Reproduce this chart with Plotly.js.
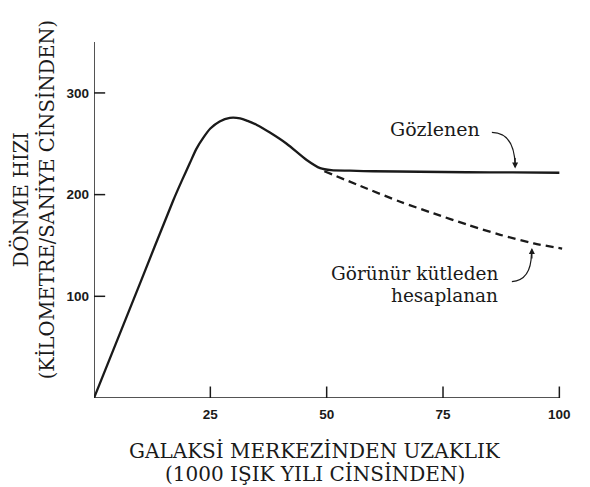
<!DOCTYPE html>
<html>
<head>
<meta charset="utf-8">
<script src="https://cdn.plot.ly/plotly-3.0.1.min.js"></script>
<style>html,body{margin:0;padding:0;background:#fff;}#chart{width:590px;height:487px;}</style>
</head>
<body>
<div id="chart"></div>
<script>
// Observed rotation curve (distance in 1000 ly, speed in km/s)
const observedX = [0, 10, 17, 19, 20.6, 22, 23.5, 25, 27, 29.2, 31.4, 33, 35, 37.8, 41.4, 45.7, 48.6, 51, 55, 60, 70, 80, 90, 100];
const observedY = [0, 114, 194, 215, 231, 245, 256, 265, 272, 275.5, 275, 272.5, 268.5, 261, 250, 234, 226, 224, 223.5, 223, 222.5, 222, 221.8, 221.5];
// Expected from visible mass
const visibleX = [49.5, 58.6, 65.8, 73, 80.2, 87.3, 94.5, 100.6];
const visibleY = [223, 206, 193, 181.5, 170.5, 160.5, 152, 147];
// Ticks
const xTicks = [25, 50, 75, 100];
const yTicks = [100, 200, 300];
const xTitle1 = 'GALAKSİ MERKEZİNDEN UZAKLIK';
const xTitle2 = '(1000 IŞIK YILI CİNSİNDEN)';
const yTitle = 'DÖNME HIZI<br>(KİLOMETRE/SANİYE CİNSİNDEN)';
const observedLabel = 'Gözlenen';
const visibleLabel1 = 'Görünür kütleden';
const visibleLabel2 = 'hesaplanan';

const ink = '#1a1a1a';
const serif = 'DejaVu Serif, serif';
const sans = 'Liberation Sans, Arial, sans-serif';

// inside tick marks, built from the tick arrays
const xTickLen = 11.3;  // y units (~11.5 px)
const yTickLen = 2.4;   // x units (~11 px)
const tickX = [], tickY = [];
xTicks.forEach(v => { tickX.push(v, v, null); tickY.push(0, xTickLen, null); });
yTicks.forEach(v => { tickX.push(0, yTickLen, null); tickY.push(v, v, null); });

const traces = [
  {x: tickX, y: tickY, mode: 'lines', type: 'scatter', name: 'ticks', connectgaps: false,
   line: {color: ink, width: 1.5}, hoverinfo: 'skip'},
  {x: observedX, y: observedY, mode: 'lines', type: 'scatter', name: observedLabel,
   line: {color: ink, width: 2.3, shape: 'spline', smoothing: 0.8}, hoverinfo: 'skip'},
  {x: visibleX, y: visibleY, mode: 'lines', type: 'scatter', name: visibleLabel1 + ' ' + visibleLabel2,
   line: {color: ink, width: 2.3, dash: '8px,5px', shape: 'spline', smoothing: 0.8}, hoverinfo: 'skip'}
];

const layout = {
  width: 590, height: 487,
  margin: {l: 94, r: 26, t: 37, b: 89},
  paper_bgcolor: '#fff', plot_bgcolor: '#fff',
  showlegend: false,
  xaxis: {
    range: [0, 101], showgrid: false, zeroline: false, showline: false,
    tickvals: xTicks, ticktext: xTicks.map(String), ticks: '',
    ticklabelstandoff: 6,
    tickfont: {family: sans, size: 13.5, color: ink, weight: 700}
  },
  yaxis: {
    range: [0, 355], showgrid: false, zeroline: false, showline: false,
    tickvals: yTicks, ticktext: yTicks.map(String), ticks: '',
    ticklabelstandoff: 4,
    tickfont: {family: sans, size: 13.5, color: ink, weight: 700}
  },
  shapes: [
    {type: 'line', xref: 'x', yref: 'y', x0: 0, y0: 0, x1: 100, y1: 0, line: {color: ink, width: 1.5}},
    {type: 'line', xref: 'x', yref: 'y', x0: 0, y0: 0, x1: 0, y1: 350, line: {color: ink, width: 1.5}},
    {type: 'path', xref: 'x', yref: 'y', path: 'M 85.5,261.3 Q 90.3,261.1 90.5,229', line: {color: ink, width: 1.2}},
    {type: 'path', xref: 'x', yref: 'y', path: 'M 89.8,114.4 Q 94,116 94,142.6', line: {color: ink, width: 1.2}}
  ],
  annotations: [
    {xref: 'paper', yref: 'paper', x: -0.128, y: 0.55, text: yTitle, textangle: -90,
     showarrow: false, xanchor: 'center', yanchor: 'middle',
     font: {family: serif, size: 19.5, color: ink}},
    {xref: 'paper', yref: 'paper', x: 0.470, y: -0.147, text: xTitle1, showarrow: false,
     xanchor: 'center', yanchor: 'middle', font: {family: serif, size: 20, color: ink}},
    {xref: 'paper', yref: 'paper', x: 0.470, y: -0.211, text: xTitle2, showarrow: false,
     xanchor: 'center', yanchor: 'middle', font: {family: serif, size: 20, color: ink}},
    {xref: 'x', yref: 'y', x: 73.3, y: 265, text: observedLabel, showarrow: false,
     xanchor: 'center', yanchor: 'middle', font: {family: serif, size: 19, color: ink}},
    {xref: 'x', yref: 'y', x: 87.3, y: 122, text: visibleLabel1, showarrow: false,
     xanchor: 'right', yanchor: 'middle', font: {family: serif, size: 18.5, color: ink}},
    {xref: 'x', yref: 'y', x: 87.3, y: 100.5, text: visibleLabel2, showarrow: false,
     xanchor: 'right', yanchor: 'middle', font: {family: serif, size: 18.5, color: ink}},
    {xref: 'x', yref: 'y', x: 90.5, y: 225.7, text: '', showarrow: true, ax: 0, ay: -12,
     arrowhead: 2, arrowsize: 1, arrowwidth: 1.2, arrowcolor: ink, standoff: 0},
    {xref: 'x', yref: 'y', x: 94.1, y: 147.5, text: '', showarrow: true, ax: 0, ay: 12,
     arrowhead: 2, arrowsize: 1, arrowwidth: 1.2, arrowcolor: ink, standoff: 0}
  ]
};

Plotly.newPlot('chart', traces, layout, {staticPlot: true, displayModeBar: false});
</script>
</body>
</html>
